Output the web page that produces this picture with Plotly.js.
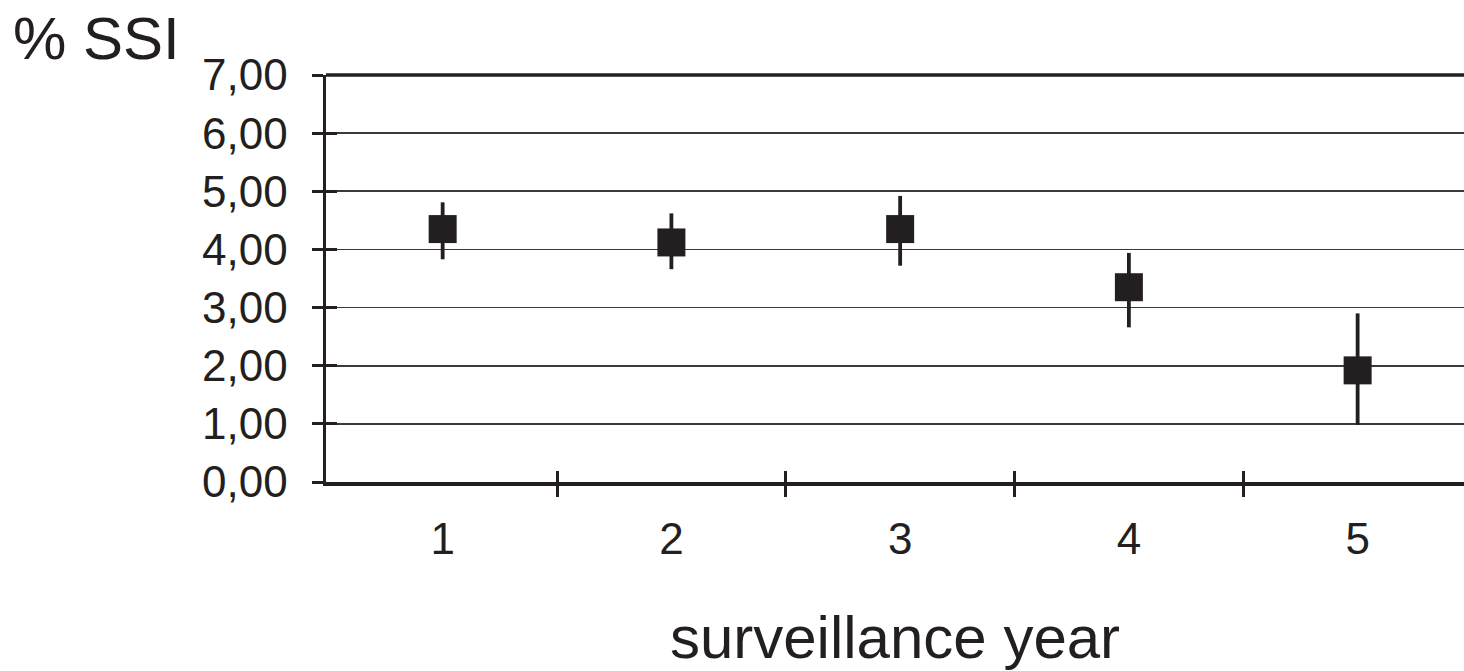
<!DOCTYPE html>
<html>
<head>
<meta charset="utf-8">
<script src="https://cdn.plot.ly/plotly-3.0.1.min.js"></script>
<style>
html,body{margin:0;padding:0;background:#fff;overflow:hidden;}
#chart{width:1464px;height:671px;}
</style>
</head>
<body>
<div id="chart"></div>
<script>
// Data
const years = [1, 2, 3, 4, 5];
const yearLabels = ["1", "2", "3", "4", "5"];
const ssiPercent = [4.35, 4.12, 4.35, 3.35, 1.92];
const errUpper = [4.81, 4.62, 4.92, 3.94, 2.90];
const errLower = [3.83, 3.66, 3.72, 2.66, 0.98];
const yTickVals = [0, 1, 2, 3, 4, 5, 6, 7];
const yTickText = ["0,00", "1,00", "2,00", "3,00", "4,00", "5,00", "6,00", "7,00"];
const yearBoundaries = [1.5, 2.5, 3.5, 4.5];

const ink = "#231f20";
const fontFam = "Liberation Sans, Arial, sans-serif";

const plusErr = ssiPercent.map((v, i) => errUpper[i] - v);
const minusErr = ssiPercent.map((v, i) => v - errLower[i]);

const traces = [
  {
    type: "scatter",
    mode: "markers",
    x: years,
    y: ssiPercent,
    marker: {symbol: "square", size: 28, color: ink, line: {width: 0}},
    error_y: {type: "data", symmetric: false, array: plusErr, arrayminus: minusErr,
              color: ink, thickness: 3.8, width: 0},
    showlegend: false,
    hoverinfo: "x+y"
  },
  {
    type: "scatter", mode: "markers", x: [], y: [],
    xaxis: "x2", yaxis: "y2", showlegend: false, hoverinfo: "skip"
  }
];

const layout = {
  width: 1464,
  height: 671,
  margin: {l: 326, r: 0, t: 75, b: 189, pad: 0},
  paper_bgcolor: "#ffffff",
  plot_bgcolor: "#ffffff",
  font: {family: fontFam, color: ink},
  showlegend: false,
  xaxis: {
    range: [0.49, 5.465],
    tickmode: "array",
    tickvals: years,
    ticktext: yearLabels,
    ticks: "",
    ticklabelstandoff: 16,
    tickfont: {family: fontFam, size: 44, color: ink},
    showline: true, linewidth: 3.5, linecolor: ink,
    showgrid: false, zeroline: false,
    minor: {tickmode: "array", tickvals: yearBoundaries, ticks: "outside",
            ticklen: 11, tickwidth: 3, tickcolor: ink, showgrid: false},
    title: {text: "surveillance year", font: {family: fontFam, size: 60, color: ink}, standoff: 54}
  },
  yaxis: {
    range: [0, 7],
    tickmode: "array",
    tickvals: yTickVals,
    ticktext: yTickText,
    ticks: "outside", ticklen: 11, tickwidth: 3, tickcolor: ink,
    ticklabelstandoff: 15,
    tickfont: {family: fontFam, size: 44, color: ink},
    showline: true, linewidth: 3.5, linecolor: ink,
    showgrid: true, gridcolor: "#3a3a3a", gridwidth: 1.6,
    zeroline: false
  },
  xaxis2: {
    overlaying: "x", anchor: "y2", side: "bottom",
    range: [0.49, 5.465],
    tickmode: "array", tickvals: yearBoundaries,
    ticks: "inside", ticklen: 11, tickwidth: 3, tickcolor: ink,
    showticklabels: false, showgrid: false, zeroline: false, showline: false
  },
  yaxis2: {
    overlaying: "y", anchor: "x2", side: "left",
    range: [0, 7],
    tickmode: "array", tickvals: yTickVals,
    ticks: "inside", ticklen: 11, tickwidth: 3, tickcolor: ink,
    showticklabels: false, showgrid: false, zeroline: false, showline: false
  },
  shapes: [
    {type: "line", xref: "paper", yref: "paper", x0: 0, x1: 1, y0: 1, y1: 1,
     line: {color: ink, width: 3.5}, layer: "above"}
  ],
  annotations: [
    {text: "% SSI", xref: "paper", yref: "paper", x: -0.202, y: 1.09,
     xanchor: "center", yanchor: "middle", showarrow: false,
     font: {family: fontFam, size: 60, color: ink}}
  ]
};

Plotly.newPlot("chart", traces, layout, {displayModeBar: false, staticPlot: true});
</script>
</body>
</html>
